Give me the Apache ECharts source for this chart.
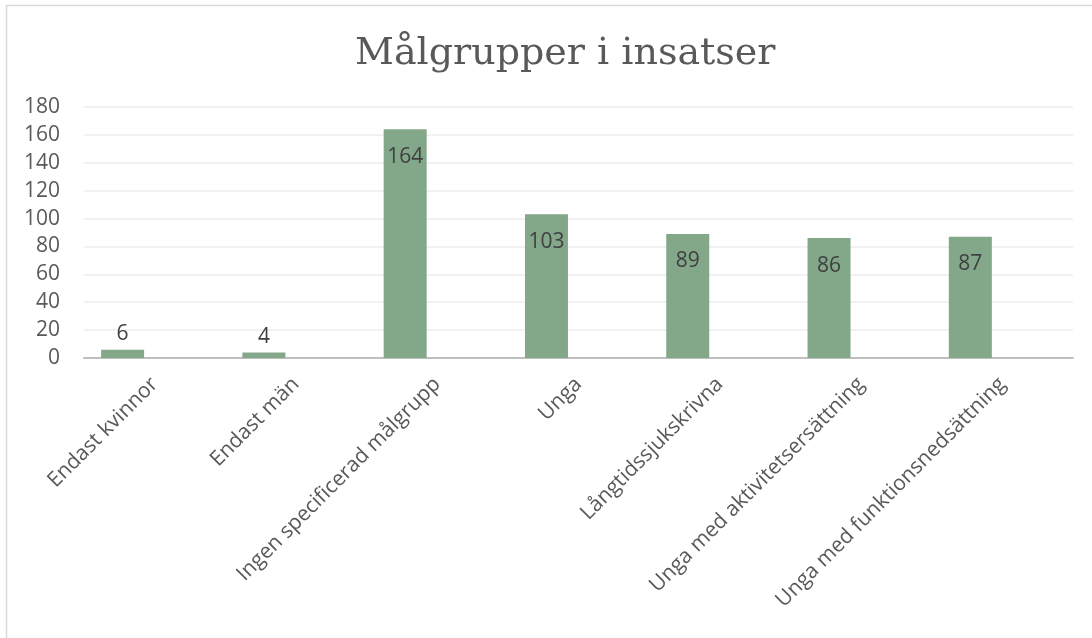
<!DOCTYPE html>
<html>
<head>
<meta charset="utf-8">
<script src="https://cdn.jsdelivr.net/npm/echarts@6/dist/echarts.min.js"></script>
<style>
html,body{margin:0;padding:0;background:#fff;}
#chart{width:1092px;height:638px;}
</style>
</head>
<body>
<div id="chart"></div>
<script>
const titleText = 'Målgrupper i insatser';
const categories = ['Endast kvinnor','Endast män','Ingen specificerad målgrupp','Unga','Långtidssjukskrivna','Unga med aktivitetsersättning','Unga med funktionsnedsättning'];
const values = [6, 4, 164, 103, 89, 86, 87];
const yTicks = [0, 20, 40, 60, 80, 100, 120, 140, 160, 180];

const chart = echarts.init(document.getElementById('chart'));
const labelFont = '"Open Sans", "Liberation Sans", sans-serif';
chart.setOption({
  animation: false,
  backgroundColor: '#ffffff',
  title: {
    text: titleText,
    left: 350,
    top: 30,
    textStyle: { fontFamily: '"DejaVu Serif", serif', fontSize: 38, fontWeight: 'normal', color: '#595959' }
  },
  graphic: [{
    type: 'rect',
    shape: { x: 6.5, y: 5.5, width: 1200, height: 800 },
    style: { fill: 'none', stroke: '#d9d9d9', lineWidth: 1.5 },
    silent: true
  }],
  grid: { left: 84, right: 19, top: 107, bottom: 280, containLabel: false },
  xAxis: {
    type: 'category',
    data: categories,
    axisLine: { lineStyle: { color: '#bfbfbf', width: 2 } },
    axisTick: { show: false },
    axisLabel: { rotate: 45, interval: 0, margin: 23, color: '#595959', fontSize: 21, fontFamily: labelFont }
  },
  yAxis: {
    type: 'value',
    min: yTicks[0],
    max: yTicks[yTicks.length - 1],
    interval: yTicks[1] - yTicks[0],
    axisLine: { show: false },
    axisTick: { show: false },
    splitLine: { lineStyle: { color: '#ececec', width: 1.5 } },
    axisLabel: { margin: 24, color: '#595959', fontSize: 21, fontFamily: labelFont }
  },
  series: [{
    type: 'bar',
    barWidth: 43,
    barGap: '49%',
    data: values.map(v => ({ value: v, label: v < 20 ? { position: 'top', distance: 5 } : {} })),
    itemStyle: { color: '#82a789' },
    label: {
      show: true,
      position: 'insideTop',
      distance: 17,
      color: '#404040',
      fontSize: 21,
      fontFamily: labelFont
    }
  }, {
    type: 'bar',
    barWidth: 43,
    data: values.map(() => '-'),
    itemStyle: { color: '#82a789' }
  }]
});
</script>
</body>
</html>
